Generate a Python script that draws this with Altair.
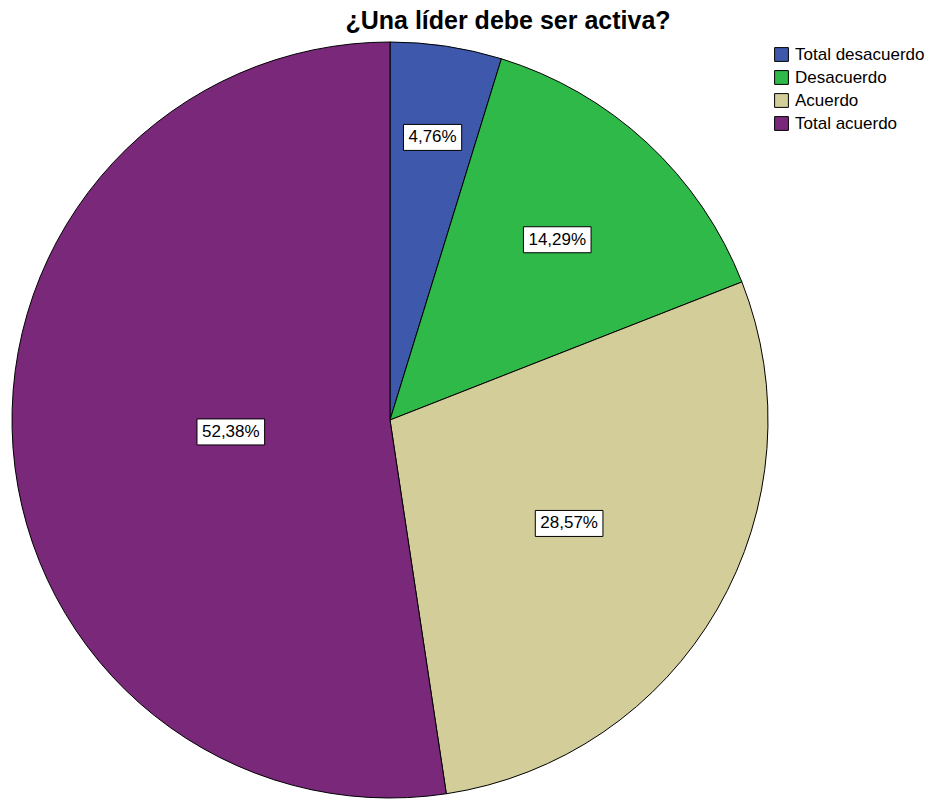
import altair as alt
import pandas as pd

categories = ["Total desacuerdo", "Desacuerdo", "Acuerdo", "Total acuerdo"]
values = [4.76, 14.29, 28.57, 52.38]
colors = ["#3E58AC", "#2EB948", "#D3CE99", "#7A287A"]
title_text = "¿Una líder debe ser activa?"

df = pd.DataFrame({"cat": categories, "val": values, "ord": list(range(len(categories)))})

W, H = 935, 800
CX, CY, R = 390, 420, 378
FONT = "Liberation Sans"
LFS = 17

color = alt.Color(
    "cat:N",
    scale=alt.Scale(domain=categories, range=colors),
    sort=categories,
    legend=alt.Legend(
        title=None, orient="none", legendX=773, legendY=46,
        symbolType="square", symbolSize=190, symbolStrokeColor="black",
        symbolStrokeWidth=1, symbolOpacity=1, labelFont=FONT, labelFontSize=17,
        labelColor="black", rowPadding=4, labelOffset=5, padding=0,
    ),
)

base = alt.Chart(df)

pie = base.mark_arc(radius=R, stroke="black", strokeWidth=1).encode(
    theta=alt.Theta("val:Q", stack=True),
    order=alt.Order("ord:Q"),
    color=color,
    x=alt.value(CX),
    y=alt.value(CY),
)

lab = base.transform_joinaggregate(
    total="sum(val)"
).transform_window(
    cum="sum(val)", sort=[alt.SortField("ord")], frame=[None, 0]
).transform_calculate(
    f="datum.val / datum.total",
    mid="(datum.cum - datum.val / 2) / datum.total * 2 * PI",
    rr="0.90 - 0.66 * sqrt(datum.val / datum.total)",
    lx="sin(datum.mid) * datum.rr",
    ly="cos(datum.mid) * datum.rr",
    label="replace(format(datum.val, '.2f'), '.', ',') + '%'",
    bw=f"(((length(datum.label) - 2) * 0.556 + 0.278 + 0.889) * {LFS} + 10) / 2 / {R}",
    bh=f"13 / {R}",
    x1="datum.lx - datum.bw",
    x2="datum.lx + datum.bw",
    y1="datum.ly - datum.bh",
    y2="datum.ly + datum.bh",
)

xs = alt.Scale(domain=[-1, 1], range=[CX - R, CX + R])
ys = alt.Scale(domain=[-1, 1], range=[CY + R, CY - R])

boxes = lab.mark_rect(fill="white", stroke="black", strokeWidth=1).encode(
    x=alt.X("x1:Q", scale=xs, axis=None),
    x2="x2:Q",
    y=alt.Y("y1:Q", scale=ys, axis=None),
    y2="y2:Q",
)

texts = lab.mark_text(font=FONT, fontSize=LFS, color="black", baseline="middle", align="center").encode(
    x=alt.X("lx:Q", scale=xs, axis=None),
    y=alt.Y("ly:Q", scale=ys, axis=None),
    text="label:N",
)

title = alt.Chart(pd.DataFrame({"t": [title_text]})).mark_text(
    font=FONT, fontSize=25, fontWeight="bold", color="black", baseline="middle", align="center"
).encode(x=alt.value(508), y=alt.value(21), text="t:N")

chart = alt.layer(pie, boxes, texts, title).properties(
    width=W, height=H, padding=0, autosize=alt.AutoSizeParams(type="none")
).configure_view(stroke=None).resolve_scale(x="shared", y="shared")

chart.save("out.html", embed_options={"renderer": "svg", "actions": False})
